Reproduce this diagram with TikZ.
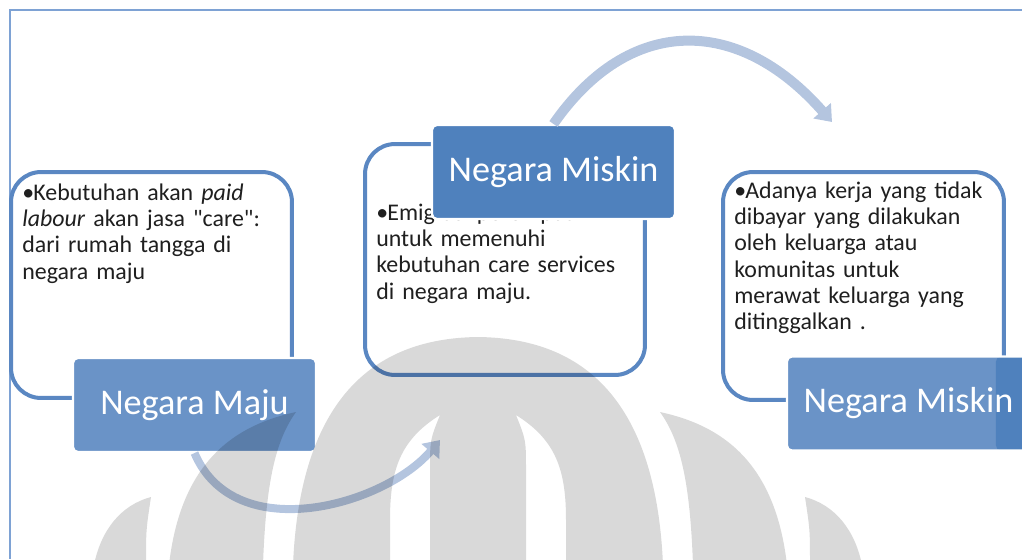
\documentclass[tikz,border=0pt]{standalone}
\usepackage{fontspec}
\setmainfont{Carlito}[Ligatures=TeXOff]
\usetikzlibrary{arrows.meta}

\definecolor{biru}{HTML}{4F81BD}
\definecolor{birumuda}{HTML}{6A93C7}
\definecolor{garis}{HTML}{5A87C2}
\definecolor{panahwarna}{HTML}{B4C5DF}
\definecolor{bingkai}{HTML}{7EA2D4}
\definecolor{teks}{HTML}{1F1F1F}

\tikzset{
  kotak/.style={draw=garis, line width=0.08cm, rounded corners=0.6cm, fill=white, inner sep=0pt},
  judul/.style={draw=white, line width=1.2pt, rounded corners=0.1cm, minimum width=4.86cm,
    minimum height=1.88cm, inner sep=0pt, text=white, font=\fontsize{20.6}{24}\selectfont},
  isi/.style={anchor=base west, inner sep=0pt, text=teks, text width=6cm, align=left,
    font=\fontsize{13.6}{15}\selectfont},
  panah/.style={draw=panahwarna, line width=0.2cm, -{Triangle[width=0.45cm,length=0.3cm]}},
  tanda/.style={fill=black, fill opacity=0.15}
}
\newcommand{\butir}{\hangindent=0.22cm\hangafter=1\makebox[0.22cm][l]{\textbullet}}

\begin{document}
\begin{tikzpicture}[x=0.02cm,y=-0.02cm]
\useasboundingbox (0,0) rectangle (1022,559);

\draw[bingkai, line width=0.6pt] (1022,10) -- (10,10) -- (10,559);

% kotak isi
\node[kotak, minimum width=5.62cm, minimum height=4.52cm] (B1) at (151.5,285) {};
\node[kotak, minimum width=5.6cm, minimum height=4.62cm] (B2) at (505,259.5) {};
\node[kotak, minimum width=5.62cm, minimum height=4.56cm] (B3) at (863.5,286) {};

\node[isi] (T1) at (22,200) {\butir Kebutuhan akan \textit{paid}\\ \textit{labour} akan jasa "care":\\ dari rumah tangga di\\ negara maju};
\node[isi] (T2) at (376,220) {\butir Emigrasi perempuan\\ untuk memenuhi\\ kebutuhan care services\\ di negara maju.};
\node[isi] (T3) at (734,198) {\butir Adanya kerja yang tidak\\ dibayar yang dilakukan\\ oleh keluarga atau\\ komunitas untuk\\ merawat keluarga yang\\ ditinggalkan .};

% judul
\node[judul, fill=birumuda] (L1) at (194.5,405) {Negara Maju};
\node[judul, fill=biru] (L2) at (553.5,172) {Negara Miskin};
\node[judul, fill=birumuda, path picture={\fill[biru] ([xshift=-0.68cm]path picture bounding box.north east)
  rectangle (path picture bounding box.south east);}] (L3) at (908.5,403.5) {Negara Miskin};

% panah
\coordinate (E1) at (440,440);
\coordinate (E2) at (832,122);
\draw[panah, line width=0.16cm] (L1.south) .. controls (235,548) and (385,505) .. (E1);
\draw[panah] (L2.north) .. controls (629,15) and (738,15) .. (E2);

% tanda air
\fill[tanda, even odd rule] (478,337) .. controls (560,338) and (655,375) .. (663,565)
  -- (293,565) .. controls (301,375) and (396,338) .. (478,337) -- cycle
  (440,415) .. controls (400,440) and (390,470) .. (390,520) -- (390,565) -- (430,565)
  -- (430,470) .. controls (430,440) .. (440,415) -- cycle
  (516,415) .. controls (556,440) and (566,470) .. (566,520) -- (566,565) -- (526,565)
  -- (526,470) .. controls (526,440) .. (516,415) -- cycle;
\fill[tanda] (660,412) .. controls (720,425) and (775,460) .. (787,565) -- (693,565)
  .. controls (690,480) and (680,440) .. (660,412) -- cycle;
\fill[tanda] (296,412) .. controls (236,425) and (181,460) .. (169,565) -- (263,565)
  .. controls (266,480) and (276,440) .. (296,412) -- cycle;
\fill[tanda] (805,497) .. controls (835,505) and (855,530) .. (862,565) -- (810,565)
  .. controls (810,530) .. (805,497) -- cycle;
\fill[tanda] (151,497) .. controls (121,505) and (101,530) .. (94,565) -- (146,565)
  .. controls (146,530) .. (151,497) -- cycle;
\end{tikzpicture}
\end{document}
